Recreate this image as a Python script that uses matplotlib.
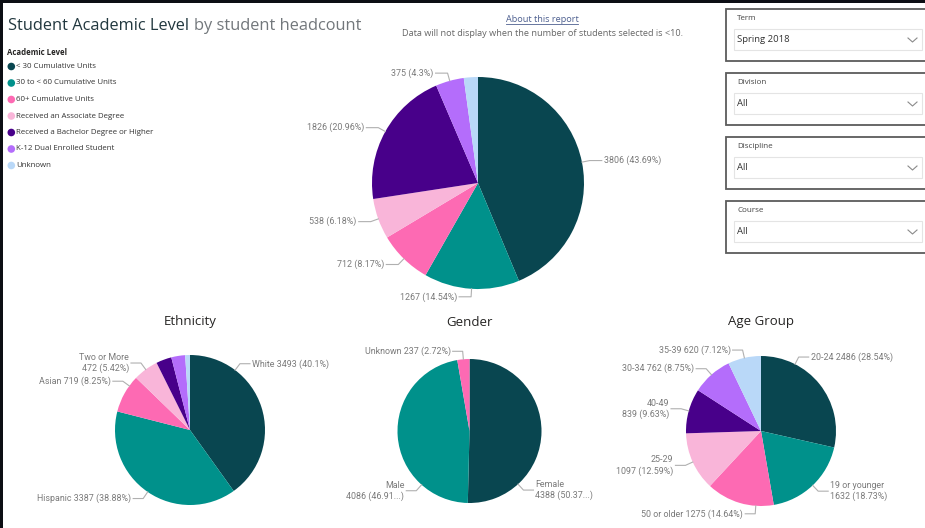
import numpy as np
import matplotlib
matplotlib.use('Agg')
import matplotlib.pyplot as plt
from matplotlib.patches import Rectangle, Circle

W, H = 925, 528

palette = ['#094650', '#00918B', '#FD6AB3', '#F9B5D9', '#48008A', '#B46DFB', '#B9D8F8']

# academic level (main pie)
acad_levels = ['< 30 Cumulative Units', '30 to < 60 Cumulative Units', '60+ Cumulative Units',
               'Received an Associate Degree', 'Received a Bachelor Degree or Higher',
               'K-12 Dual Enrolled Student', 'Unknown']
acad_counts = [3806, 1267, 712, 538, 1826, 375, 187]
acad_pcts = [43.69, 14.54, 8.17, 6.18, 20.96, 4.3, 2.15]

# ethnicity (last three slices carry no label in the report)
eth_groups = ['White', 'Hispanic', 'Asian', 'Two or More', '', '', '']
eth_counts = [3493, 3387, 719, 472, 290, 260, 90]
eth_pcts = [40.1, 38.88, 8.25, 5.42, 3.33, 2.98, 1.03]

gender_groups = ['Female', 'Male', 'Unknown']
gender_counts = [4388, 4086, 237]
gender_pcts = [50.37, 46.91, 2.72]

age_groups = ['20-24', '19 or younger', '50 or older', '25-29', '40-49', '30-34', '35-39']
age_counts = [2486, 1632, 1275, 1097, 839, 762, 620]
age_pcts = [28.54, 18.73, 14.64, 12.59, 9.63, 8.75, 7.12]

slicer_names = ['Term', 'Division', 'Discipline', 'Course']
slicer_values = ['Spring 2018', 'All', 'All', 'All']

TITLE_FONT = ['Open Sans', 'DejaVu Sans']
LABEL_FONT = ['Roboto', 'DejaVu Sans']
LABEL_COLOR = '#7a7a7a'

fig = plt.figure(figsize=(W / 100, H / 100), dpi=100, facecolor='#0c0e14')
ax = fig.add_axes([0, 0, 1, 1])
ax.set_facecolor('#0c0e14')
ax.set_xlim(0, W)
ax.set_ylim(H, 0)

# white report canvas
ax.add_patch(Rectangle((3, 3), W, H, facecolor='white', edgecolor='none', zorder=0))


def draw_pie(counts, cx, cy, r):
    # y axis is flipped, so startangle -90 / counterclock=True is 12 o'clock clockwise on screen
    ax.pie(counts, colors=palette, startangle=-90, counterclock=True,
           center=(cx, cy), radius=r, wedgeprops=dict(linewidth=0))


def draw_labels(counts, texts, cx, cy, r, moved=None, elbow=8, seg=10):
    moved = moved or {}
    frac = np.cumsum(counts) / np.sum(counts)
    mids = (frac - np.array(counts) / np.sum(counts) / 2) * 360
    for i, txt in enumerate(texts):
        if not txt:
            continue
        a = np.radians(moved.get(i, mids[i]))
        ex, ey = cx + r * np.sin(a), cy - r * np.cos(a)
        bx, by = cx + (r + elbow) * np.sin(a), cy - (r + elbow) * np.cos(a)
        side = 1 if np.sin(a) >= 0 else -1
        tx = bx + side * seg
        ax.plot([ex, bx, tx], [ey, by, by], color='#b0b0b0', lw=0.8, zorder=3)
        ax.text(tx + side * 2, by, txt, ha='left' if side > 0 else 'right', va='center',
                multialignment='left' if side > 0 else 'right',
                fontsize=6.4, color=LABEL_COLOR, family=LABEL_FONT, linespacing=1.25)


def pct(p, cut=False):
    return f'({p:.2f}...)' if cut else f'({p:g}%)'


# ---- header ----
t1 = ax.text(8, 30, 'Student Academic Level', fontsize=11.8, color='#22383f',
             family=TITLE_FONT, va='baseline')
fig.canvas.draw()
bb = t1.get_window_extent()
ax.text(bb.x1 + 5, 30, 'by student headcount', fontsize=11.8, color='#72777b',
        family=TITLE_FONT, va='baseline')

link = ax.text(542, 19, 'About this report', fontsize=6.6, color='#4d5f8f',
               family=TITLE_FONT, ha='center', va='center')
fig.canvas.draw()
lb = link.get_window_extent()
ax.plot([lb.x0, lb.x1], [H - lb.y0 + 0.5, H - lb.y0 + 0.5], color='#4d5f8f', lw=0.6)
ax.text(542, 33, 'Data will not display when the number of students selected is <10.',
        fontsize=6.6, color='#666666', family=TITLE_FONT, ha='center', va='center')

# ---- legend ----
ax.text(7, 52.5, 'Academic Level', fontsize=5.6, fontweight='bold', color='#252423',
        family=TITLE_FONT, va='center')
for i, name in enumerate(acad_levels):
    y = 66.5 + i * 16.5
    ax.add_patch(Circle((11.3, y), 3.8, facecolor=palette[i], edgecolor='none'))
    ax.text(16, y, name, fontsize=5.7, color='#333333', family=TITLE_FONT, va='center')

# ---- main pie ----
cx, cy, r = 478, 183, 106
draw_pie(acad_counts, cx, cy, r)
acad_txt = [f'{c} {pct(p)}' for c, p in zip(acad_counts, acad_pcts)]
acad_txt[-1] = ''
draw_labels(acad_counts, acad_txt, cx, cy, r, seg=12)

# ---- ethnicity ----
ex_, ey_, er = 190, 430, 75
draw_pie(eth_counts, ex_, ey_, er)
eth_txt = []
for g, c, p in zip(eth_groups, eth_counts, eth_pcts):
    if not g:
        eth_txt.append('')
    elif g == 'Two or More':
        eth_txt.append(f'{g}\n{c} {pct(p)}')
    else:
        eth_txt.append(f'{g} {c} {pct(p)}')
draw_labels(eth_counts, eth_txt, ex_, ey_, er, moved={0: 37, 2: 306})
ax.text(ex_, 322, 'Ethnicity', fontsize=9.5, color='#252423', family=TITLE_FONT,
        ha='center', va='center')

# ---- gender ----
gx, gy, gr = 469.5, 431, 72
draw_pie(gender_counts, gx, gy, gr)
gender_txt = [f'{gender_groups[0]}\n{gender_counts[0]} {pct(gender_pcts[0], True)}',
              f'{gender_groups[1]}\n{gender_counts[1]} {pct(gender_pcts[1], True)}',
              f'{gender_groups[2]} {gender_counts[2]} {pct(gender_pcts[2])}']
draw_labels(gender_counts, gender_txt, gx, gy, gr, moved={0: 137.6, 1: 221.7})
ax.text(gx, 322, 'Gender', fontsize=9.5, color='#252423', family=TITLE_FONT,
        ha='center', va='center')

# ---- age group ----
axc, ayc, ar = 761, 431, 75
draw_pie(age_counts, axc, ayc, ar)
wrap = {'19 or younger', '25-29', '40-49'}
age_txt = [f'{g}\n{c} {pct(p)}' if g in wrap else f'{g} {c} {pct(p)}'
           for g, c, p in zip(age_groups, age_counts, age_pcts)]
draw_labels(age_counts, age_txt, axc, ayc, ar, moved={0: 27, 2: 184})
ax.text(axc, 322, 'Age Group', fontsize=9.5, color='#252423', family=TITLE_FONT,
        ha='center', va='center')

# ---- slicers ----
for i, (name, val) in enumerate(zip(slicer_names, slicer_values)):
    top = 9 + i * 64
    ax.add_patch(Rectangle((726, top), 210, 52, facecolor='white', edgecolor='#5c5c5c',
                           lw=1.3, zorder=2))
    ax.text(737, top + 9.5, name, fontsize=5.8, color='#444444', family=TITLE_FONT,
            va='center', zorder=3)
    ax.add_patch(Rectangle((734, top + 20), 188, 21, facecolor='white', edgecolor='#e4e4e4',
                           lw=0.8, zorder=3))
    ax.text(737, top + 31, val, fontsize=6.8, color='#333333', family=TITLE_FONT,
            va='center', zorder=4)
    ax.plot([908, 912.5, 917], [top + 29, top + 33, top + 29], color='#8a8a8a', lw=0.8,
            zorder=4)

ax.set_xlim(0, W)
ax.set_ylim(H, 0)
ax.set_aspect('auto')
ax.axis('off')

fig.savefig('out.png', dpi=100, facecolor=fig.get_facecolor())
